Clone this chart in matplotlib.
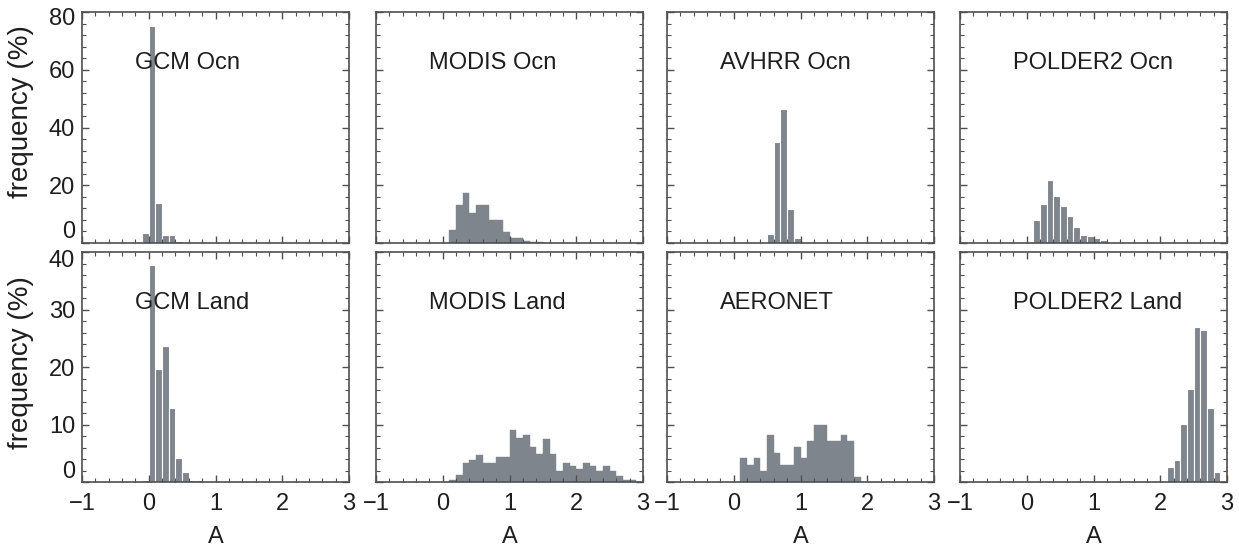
import matplotlib
matplotlib.use('Agg')
import matplotlib.pyplot as plt
import matplotlib.transforms as mtrans
import numpy as np
from matplotlib.ticker import MultipleLocator

plt.rcParams['font.family'] = ['Liberation Sans', 'DejaVu Sans']

# bin width 0.1, each series starts at the given left edge
gcm_ocn_start = -0.1
gcm_ocn = [3.5, 75.0, 14.0, 2.8, 2.6, 0.7, 0.3]
modis_ocn_start = 0.1
modis_ocn = [4.6, 13.2, 17.3, 10.4, 13.2, 13.2, 7.8, 7.8, 3.7, 1.6, 1.6, 0.6, 0.4, 0.2, 0.1]
avhrr_ocn_start = 0.4
avhrr_ocn = [0.3, 3.2, 35.1, 46.3, 11.7, 1.6]
polder_ocn_start = 0.1
polder_ocn = [7.8, 13.6, 21.9, 16.3, 12.7, 9.2, 5.5, 2.9, 2.5, 1.6, 1.2, 0.5, 0.3, 0.2, 0.1]

gcm_land_start = -0.1
gcm_land = [0.4, 37.7, 19.7, 23.6, 12.8, 4.2, 1.8, 0.3, 0.4, 0.2]
modis_land_start = 0.1
modis_land = [0.3, 1.3, 3.3, 3.8, 4.7, 3.3, 3.3, 4.3, 4.3, 9.0, 7.7, 8.1, 6.1, 4.9, 7.4,
              4.9, 2.0, 3.3, 2.8, 2.3, 3.3, 2.8, 2.0, 2.8, 2.0, 1.0, 0.4, 0.3]
aeronet_start = 0.1
aeronet = [4.1, 3.0, 4.1, 1.9, 8.1, 5.0, 3.0, 3.0, 6.1, 4.1, 7.1, 10.0, 10.0, 7.1, 7.1, 8.1, 7.1, 0.9]
polder_land_start = 2.1
polder_land = [2.6, 3.8, 10.1, 16.2, 26.9, 26.4, 12.8, 1.8]

titles = [['GCM Ocn', 'MODIS Ocn', 'AVHRR Ocn', 'POLDER2 Ocn'],
          ['GCM Land', 'MODIS Land', 'AERONET', 'POLDER2 Land']]
series = [[(gcm_ocn_start, gcm_ocn), (modis_ocn_start, modis_ocn),
           (avhrr_ocn_start, avhrr_ocn), (polder_ocn_start, polder_ocn)],
          [(gcm_land_start, gcm_land), (modis_land_start, modis_land),
           (aeronet_start, aeronet), (polder_land_start, polder_land)]]
# bars separated by white lines in these panels
edged = [[True, False, True, True], [True, False, False, True]]

bar_c = '#7e858c'
frame_c = '#4f4f4f'
text_c = '#1e1e1e'

W, H = 1239, 550
fig = plt.figure(figsize=(W / 100, H / 100), dpi=100)

col_left = [82, 376, 667, 960]
col_w = 267
row_top = [12, 252]
row_h = [231, 230]
ymax = [80, 40]
ylab_y = [0.567, 0.52]

for r in range(2):
    for c in range(4):
        ax = fig.add_axes([col_left[c] / W, 1 - (row_top[r] + row_h[r]) / H,
                           col_w / W, row_h[r] / H])
        start, vals = series[r][c]
        edges = start + 0.1 * np.arange(len(vals))
        if edged[r][c]:
            ax.bar(edges, vals, width=0.1, align='edge', color=bar_c,
                   edgecolor='white', linewidth=0.8)
        else:
            ax.bar(edges, vals, width=0.1, align='edge', color=bar_c,
                   edgecolor=bar_c, linewidth=0.3)
        ax.set_xlim(-1, 3)
        ax.set_ylim(0, ymax[r])
        ax.set_xticks([-1, 0, 1, 2, 3])
        ax.xaxis.set_minor_locator(MultipleLocator(0.2))
        ax.set_yticks(np.arange(0, ymax[r] + 1, ymax[r] / 4))
        ax.yaxis.set_minor_locator(MultipleLocator(ymax[r] / 20))
        ax.tick_params(which='both', direction='in', top=True, right=True,
                       color=frame_c, labelsize=17, labelcolor=text_c)
        ax.tick_params(which='major', length=5, width=1)
        ax.tick_params(which='minor', length=3, width=0.8)
        ax.tick_params(axis='x', pad=8)
        ax.tick_params(axis='y', pad=5)
        for s in ax.spines.values():
            s.set_color(frame_c)
            s.set_linewidth(1.2)
        ax.text(0.2, 0.78, titles[r][c], transform=ax.transAxes, fontsize=17,
                color=text_c, ha='left', va='center')
        if r == 0:
            ax.tick_params(labelbottom=False)
        else:
            ax.set_xlabel('A', fontsize=17, color=text_c, labelpad=8)
        if c == 0:
            ax.set_ylabel('frequency (%)', fontsize=20, color=text_c)
            ax.yaxis.set_label_coords(-0.18, ylab_y[r])
            ticks = ax.yaxis.get_major_ticks()
            # end labels nudged inward so the two rows do not collide
            if r == 0:
                shifts = {0: 10, len(ticks) - 1: -3}
            else:
                shifts = {0: 9, len(ticks) - 1: -5}
            for i, dy in shifts.items():
                off = mtrans.ScaledTranslation(0, dy / 72, fig.dpi_scale_trans)
                ticks[i].label1.set_transform(ticks[i].label1.get_transform() + off)
        else:
            ax.tick_params(labelleft=False)

fig.savefig('out.png', dpi=100)
